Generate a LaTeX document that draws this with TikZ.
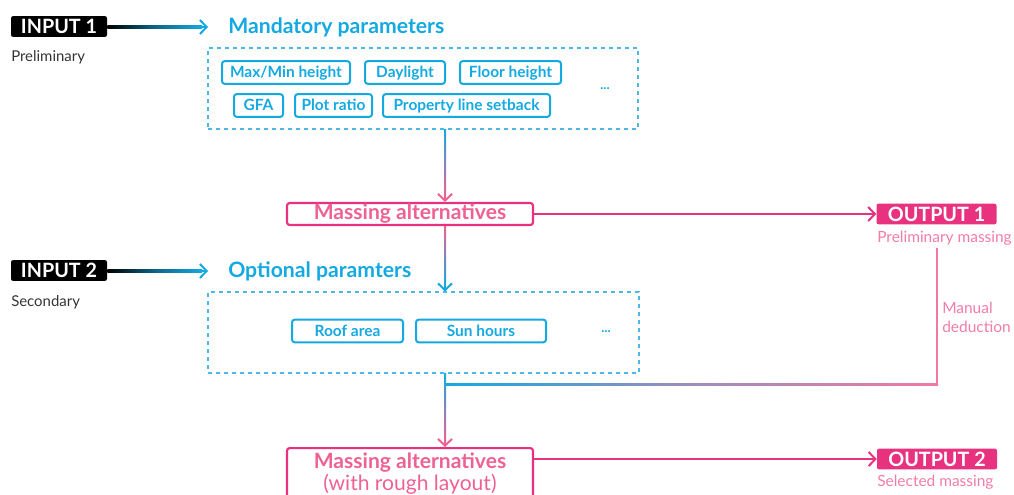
\documentclass[tikz,border=0pt]{standalone}
\usepackage{fontspec}
\setmainfont{Lato}
\usetikzlibrary{arrows.meta,calc}
\definecolor{cy}{HTML}{14A9E1}
\definecolor{cyd}{HTML}{4DB9E8}
\definecolor{pk}{HTML}{E8327F}
\definecolor{pkt}{HTML}{EE6193}
\definecolor{pkl}{HTML}{F27CA8}
\definecolor{gr}{HTML}{333333}
\begin{document}
\begin{tikzpicture}[x=0.75pt,y=-0.75pt,
  tagbox/.style={rounded corners=1.5pt, text=white, inner sep=0pt,
    font=\bfseries\fontsize{14.8}{16}\selectfont, minimum height=15.5pt},
  inbox/.style={tagbox, fill=black, minimum width=72pt},
  outbox/.style={tagbox, fill=pk, minimum width=90pt},
  title/.style={anchor=west, inner sep=0pt, text=cy, font=\bfseries\fontsize{15.9}{18}\selectfont},
  note/.style={anchor=west, inner sep=0pt, text=gr, font=\fontsize{11.2}{12}\selectfont},
  pnote/.style={anchor=west, inner sep=0pt, text=pkl, font=\fontsize{11.6}{14.25}\selectfont},
  param/.style={draw=cy, line width=1.5pt, rounded corners=2pt, text=cy, inner sep=0pt,
    font=\bfseries\fontsize{11.6}{13}\selectfont, minimum height=17pt, text depth=0.5pt},
  group/.style={draw=cyd, dashed, line width=0.8pt, inner sep=0pt},
  mass/.style={draw=pk, line width=1.6pt, rounded corners=2pt, text=pkt, inner sep=0pt,
    minimum width=184.5pt, align=center, font=\fontsize{15.8}{16.5}\selectfont},
  dots/.style={text=cy, inner sep=0pt, font=\bfseries\fontsize{10}{12}\selectfont},
  tip/.style={-{Straight Barb[length=5pt,width=10.5pt,line width=1.5pt]}, line width=1.5pt},
]
\useasboundingbox (0,0) rectangle (1014,494);

% inputs
\node[inbox] (in1) at (59,26.5) {INPUT 1};
\node[note] (pre) at (11,57.5) {Preliminary};
\node[inbox] (in2) at (59,270.5) {INPUT 2};
\node[note] (sec) at (11,302) {Secondary};

% parameter groups
\node[title] (mand) at (228,27) {Mandatory parameters};
\node[group, minimum width=322.5pt, minimum height=60.75pt] (g1) at (423,88.5) {};
\node[param, minimum width=96pt]    (p1) at (286,72.5)  {Max/Min height};
\node[param, minimum width=60pt]    (p2) at (405,72.5)  {Daylight};
\node[param, minimum width=75.75pt] (p3) at (510.5,72.5){Floor height};
\node[param, minimum width=36.75pt] (p4) at (258.5,105.5){GFA};
\node[param, minimum width=57.75pt] (p5) at (333.5,105.5){Plot ratio};
\node[param, minimum width=125.25pt](p6) at (466.5,105.5){Property line setback};
\node[dots] (d1) at (605,89) {...};

\node[title] (opt) at (228,271) {Optional paramters};
\node[group, minimum width=323.25pt, minimum height=60.75pt] (g2) at (423.5,332.5) {};
\node[param, minimum width=83.25pt] (q1) at (347.5,331) {Roof area};
\node[param, minimum width=97.5pt]  (q2) at (481,331)   {Sun hours};
\node[dots] (d2) at (606,332) {...};

% massing steps
\node[mass, minimum height=16.5pt] (m1) at (410,214) {\raisebox{-1pt}{\bfseries Massing alternatives}};
\node[mass, minimum height=39pt, anchor=north] (m2) at (410,447)
  {{\bfseries Massing alternatives}\\(with rough layout)};

% outputs
\node[outbox] (o1) at (936.5,214) {OUTPUT 1};
\node[pnote] (o1l) at (877,238) {Preliminary massing};
\node[outbox] (o2) at (937,459) {OUTPUT 2};
\node[pnote] (o2l) at (877,482) {Selected massing};
\node[pnote, align=left, anchor=north west] (man) at (942,302) {Manual\\deduction};

% trunk and junction points
\coordinate (tr) at (445,0);
\coordinate (a1) at (208,27);
\coordinate (a2) at (208,271);
\coordinate (fb) at (937,248);
\coordinate (fc) at (937,384);
\coordinate (fj) at (445,384);

% input arrows: black fading into cyan
\shade[left color=black, right color=cy, middle color=black!40!cy]
  ($(in1.east)+(0,-1)$) rectangle ($(a1)+(-6,1)$);
\draw[cy, tip] ($(a1)+(-8,0)$) -- (a1);
\shade[left color=black, right color=cy, middle color=black!40!cy]
  ($(in2.east)+(0,-1)$) rectangle ($(a2)+(-6,1)$);
\draw[cy, tip] ($(a2)+(-8,0)$) -- (a2);

% mandatory group -> first massing
\shade[top color=cy, bottom color=pkt]
  ($(g1.south -| tr)+(-1,0)$) rectangle ($(m1.north -| tr)+(1,-6)$);
\draw[pkt, tip] ($(m1.north -| tr)+(0,-8)$) -- (m1.north -| tr);

% first massing -> optional group
\shade[top color=pkt, bottom color=cy]
  ($(m1.south -| tr)+(-1,0)$) rectangle ($(g2.north -| tr)+(1,-6)$);
\draw[cy, tip] ($(g2.north -| tr)+(0,-8)$) -- (g2.north -| tr);

% massing -> outputs
\draw[pk, tip] (m1.east) -- (o1.west);
\draw[pk, tip] (m2.east |- o2.west) -- (o2.west);

% manual deduction feedback loop
\fill[pkt!85!white] ($(fb)+(-1,0)$) rectangle ($(fc)+(1,1)$);
\shade[left color=cy, right color=pkt!85!white, middle color=cyd!50!pkt]
  ($(fj)+(-1,-1)$) rectangle ($(fc)+(1,1)$);

% optional group -> second massing
\shade[top color=cy, bottom color=pkt]
  ($(g2.south -| tr)+(-1,0)$) rectangle ($(m2.north -| tr)+(1,-6)$);
\draw[pkt, tip] ($(m2.north -| tr)+(0,-8)$) -- (m2.north -| tr);
\end{tikzpicture}
\end{document}
